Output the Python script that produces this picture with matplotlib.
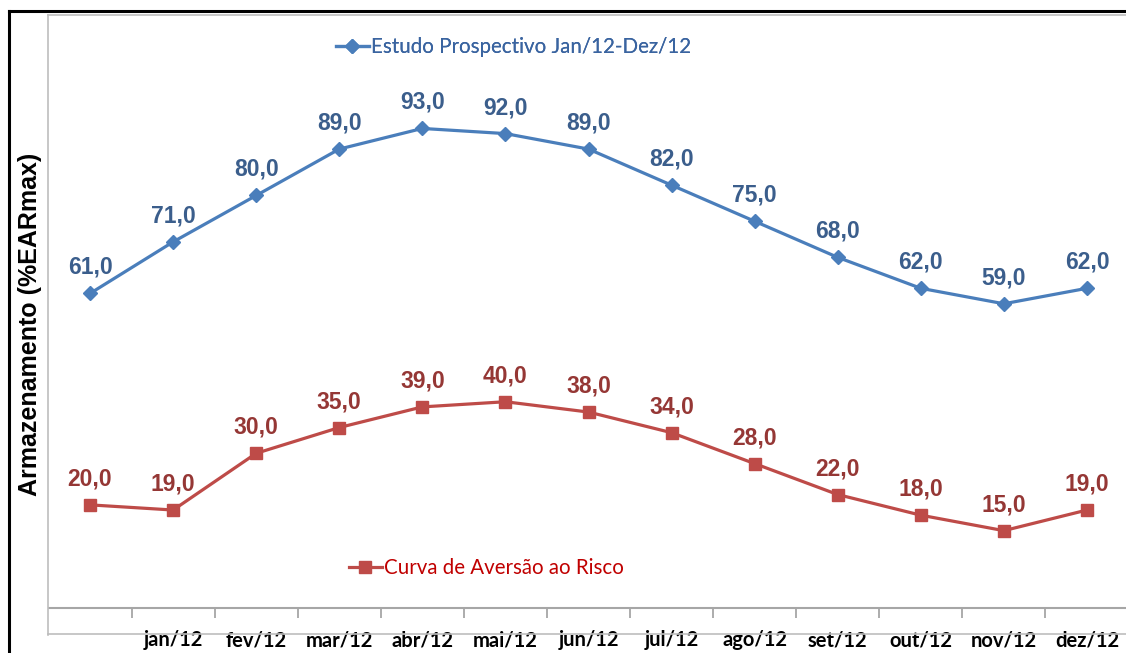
import numpy as np
import matplotlib
matplotlib.use('Agg')
import matplotlib.pyplot as plt
from matplotlib.lines import Line2D

meses = ['', 'jan/12', 'fev/12', 'mar/12', 'abr/12', 'mai/12', 'jun/12',
         'jul/12', 'ago/12', 'set/12', 'out/12', 'nov/12', 'dez/12']
estudo = [61.0, 71.0, 80.0, 89.0, 93.0, 92.0, 89.0, 82.0, 75.0, 68.0, 62.0, 59.0, 62.0]
curva = [20.0, 19.0, 30.0, 35.0, 39.0, 40.0, 38.0, 34.0, 28.0, 22.0, 18.0, 15.0, 19.0]

nome_estudo = 'Estudo Prospectivo Jan/12-Dez/12'
nome_curva = 'Curva de Aversão ao Risco'

W, H = 1126, 653
fig = plt.figure(figsize=(W / 100, H / 100), dpi=100)

def fx(px):
    return px / W

def fy(py):
    return 1 - py / H

# moldura preta externa e moldura cinza do grafico
fig.add_artist(Line2D([fx(9), fx(9)], [fy(11), fy(H + 5)], color='black', lw=2.2))
fig.add_artist(Line2D([fx(9), fx(W + 5)], [fy(11), fy(11)], color='black', lw=2.2))
fig.add_artist(Line2D([fx(48), fx(48)], [fy(15), fy(635)], color='#BDBDBD', lw=1.2))
fig.add_artist(Line2D([fx(48), fx(W + 5)], [fy(15), fy(15)], color='#BDBDBD', lw=1.2))
fig.add_artist(Line2D([fx(48), fx(W + 5)], [fy(634), fy(634)], color='#BDBDBD', lw=1.2))

ax = fig.add_axes([fx(48.5), fy(608), fx(1128.5) - fx(48.5), fy(15) - fy(608)])
ax.patch.set_alpha(0)
x = np.arange(len(meses))

c_azul = '#4A7EBB'
c_verm = '#BE4B48'

l1, = ax.plot(x, estudo, color=c_azul, lw=2.3, marker='D', ms=7, label=nome_estudo)
l2, = ax.plot(x, curva, color=c_verm, lw=2.3, marker='s', ms=8, label=nome_curva)

for xi, v in zip(x, estudo):
    ax.annotate('{:.1f}'.format(v).replace('.', ','), (xi, v), xytext=(0, 26),
                textcoords='offset pixels', ha='center', va='center',
                fontsize=16.5, fontweight='bold', color='#3B5E8C',
                family='Liberation Sans')
for xi, v in zip(x, curva):
    ax.annotate('{:.1f}'.format(v).replace('.', ','), (xi, v), xytext=(0, 26),
                textcoords='offset pixels', ha='center', va='center',
                fontsize=16.5, fontweight='bold', color='#953735',
                family='Liberation Sans')

ax.set_xlim(-0.5, len(meses) - 0.5)
ax.set_ylim(0, 115)
ax.set_yticks([])
for s in ['left', 'right', 'top']:
    ax.spines[s].set_visible(False)
ax.spines['bottom'].set_color('#A6A6A6')
ax.spines['bottom'].set_linewidth(1.5)

ax.set_xticks(x)
ax.set_xticklabels(meses, fontsize=14.5, fontweight='bold', family='Lato')
ax.tick_params(axis='x', which='major', length=0, pad=16)
ax.set_xticks(np.arange(0.5, len(meses) - 0.5, 1), minor=True)
ax.tick_params(axis='x', which='minor', length=7, width=1.3, color='#A6A6A6')

fig.text(fx(30), fy(324), 'Armazenamento (%EARmax)', rotation=90, ha='center', va='center',
         fontsize=18, fontweight='bold', family='Liberation Sans')

leg1 = fig.legend(handles=[l1], loc='center left', bbox_to_anchor=(fx(336), fy(47)),
                  frameon=False, prop={'family': 'Lato', 'size': 14.8},
                  labelcolor='#3A64A0', handlelength=1.6, handletextpad=0.1,
                  borderpad=0, borderaxespad=0)
fig.add_artist(leg1)
leg2 = fig.legend(handles=[l2], loc='center left', bbox_to_anchor=(fx(349), fy(568)),
                  frameon=False, prop={'family': 'Lato', 'size': 14.8},
                  labelcolor='#C00000', handlelength=1.6, handletextpad=0.1,
                  borderpad=0, borderaxespad=0)

fig.savefig('out.png', dpi=100)
